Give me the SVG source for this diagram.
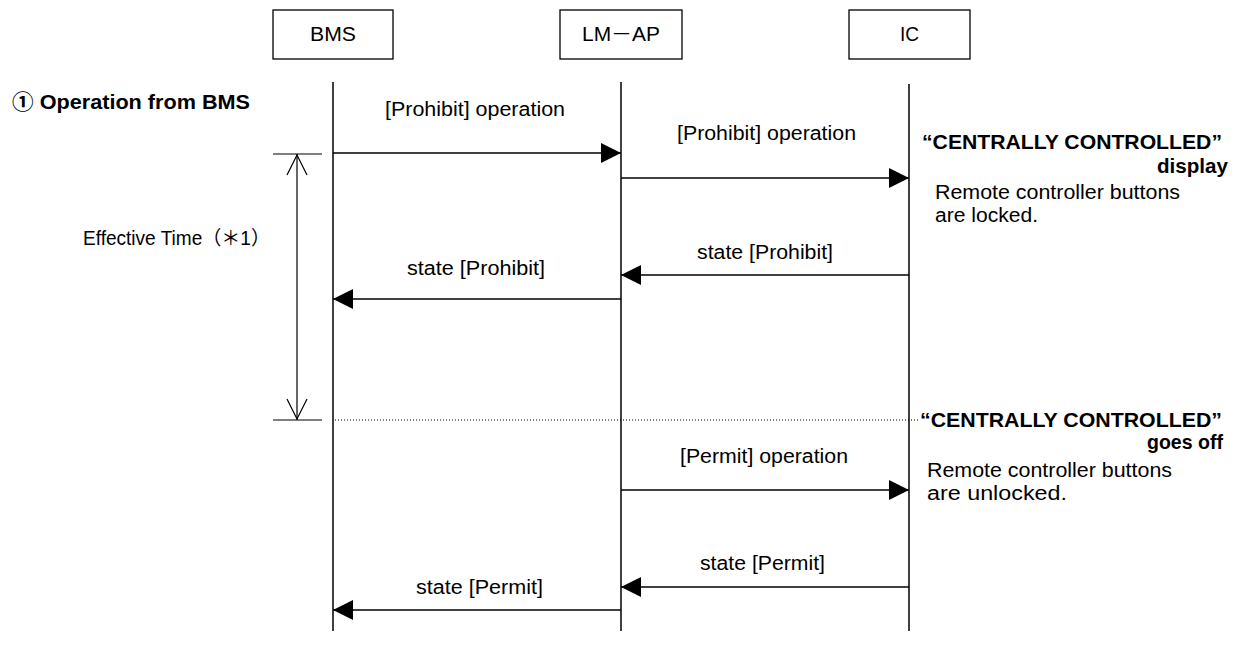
<svg xmlns="http://www.w3.org/2000/svg" width="1243" height="657" viewBox="0 0 1243 657">
<style>
text{font-family:"Liberation Sans",Arial,"Noto Sans CJK JP",sans-serif;fill:#000}
.r{font-size:19.5px}
.b{font-size:21px;font-weight:bold}
.c{text-anchor:middle}
.box{fill:#fff;stroke:#000;stroke-width:1.3}
.life{stroke:#000;stroke-width:1.5;fill:none}
.msg{stroke:#000;stroke-width:1.5;fill:none;marker-end:url(#ah)}
.thin{stroke:#000;stroke-width:1.2;fill:none}
</style>
<defs>
<marker id="ah" viewBox="0 0 20 20" refX="20" refY="10" markerWidth="20" markerHeight="20" markerUnits="userSpaceOnUse" orient="auto">
<path d="M0,0 L20,10 L0,20 z" fill="#000"/>
</marker>
</defs>
<rect width="1243" height="657" fill="#fff"/>
<g id="node-bms">
<rect class="box" x="273" y="10" width="120" height="49"/>
<text class="r c" x="333" y="41" textLength="46" lengthAdjust="spacingAndGlyphs">BMS</text>
<line class="life" x1="333" y1="82" x2="333" y2="631"/>
</g>
<g id="node-lmap">
<rect class="box" x="560" y="10" width="122" height="49"/>
<text class="r c" x="621" y="41" textLength="78" lengthAdjust="spacingAndGlyphs">LM－AP</text>
<line class="life" x1="621" y1="82" x2="621" y2="631"/>
</g>
<g id="node-ic">
<rect class="box" x="849" y="10" width="121" height="49"/>
<text class="r c" x="909.5" y="41" textLength="19" lengthAdjust="spacingAndGlyphs">IC</text>
<line class="life" x1="909" y1="84" x2="909" y2="631"/>
</g>
<g id="title">
<text class="b" x="12" y="109" font-size="20" textLength="238" lengthAdjust="spacingAndGlyphs">① Operation from BMS</text>
</g>
<g id="effective-time">
<line class="thin" x1="273" y1="154" x2="322" y2="154"/>
<line class="thin" x1="273" y1="420" x2="322" y2="420"/>
<line class="thin" x1="297" y1="154" x2="297" y2="420"/>
<polyline class="thin" points="287,175 297,155 307,175"/>
<polyline class="thin" points="287,399 297,419 307,399"/>
<text class="r" x="83" y="245" textLength="187" lengthAdjust="spacingAndGlyphs">Effective Time（＊1）</text>
</g>
<g id="ic-notes">
<text class="b" x="922" y="149" textLength="300" lengthAdjust="spacingAndGlyphs">“CENTRALLY CONTROLLED”</text>
<text class="b" x="1157" y="173" textLength="71" lengthAdjust="spacingAndGlyphs">display</text>
<text class="r" x="935" y="199" textLength="245" lengthAdjust="spacingAndGlyphs">Remote controller buttons</text>
<text class="r" x="935" y="222" textLength="103" lengthAdjust="spacingAndGlyphs">are locked.</text>
<text class="b" x="920" y="427" textLength="302" lengthAdjust="spacingAndGlyphs">“CENTRALLY CONTROLLED”</text>
<text class="b" x="1147" y="449" textLength="76" lengthAdjust="spacingAndGlyphs">goes off</text>
<text class="r" x="927" y="477" textLength="245" lengthAdjust="spacingAndGlyphs">Remote controller buttons</text>
<text class="r" x="927" y="500" textLength="140" lengthAdjust="spacingAndGlyphs">are unlocked.</text>
</g>
<g id="connectors">
<line class="msg" x1="333" y1="153" x2="621" y2="153"/>
<text class="r" x="385" y="116" textLength="180" lengthAdjust="spacingAndGlyphs">[Prohibit] operation</text>
<line class="msg" x1="621" y1="178" x2="909" y2="178"/>
<text class="r" x="677" y="140" textLength="179" lengthAdjust="spacingAndGlyphs">[Prohibit] operation</text>
<line class="msg" x1="909" y1="275" x2="621" y2="275"/>
<text class="r" x="697" y="259" textLength="136" lengthAdjust="spacingAndGlyphs">state [Prohibit]</text>
<line class="msg" x1="621" y1="299" x2="333" y2="299"/>
<text class="r" x="407" y="275" textLength="138" lengthAdjust="spacingAndGlyphs">state [Prohibit]</text>
<line x1="335" y1="420" x2="920" y2="420" stroke="#000" stroke-width="1" stroke-dasharray="1,2"/>
<line class="msg" x1="621" y1="490" x2="909" y2="490"/>
<text class="r" x="680" y="463" textLength="168" lengthAdjust="spacingAndGlyphs">[Permit] operation</text>
<line class="msg" x1="909" y1="587" x2="621" y2="587"/>
<text class="r" x="700" y="570" textLength="125" lengthAdjust="spacingAndGlyphs">state [Permit]</text>
<line class="msg" x1="621" y1="610" x2="333" y2="610"/>
<text class="r" x="416" y="594" textLength="127" lengthAdjust="spacingAndGlyphs">state [Permit]</text>
</g>
</svg>
